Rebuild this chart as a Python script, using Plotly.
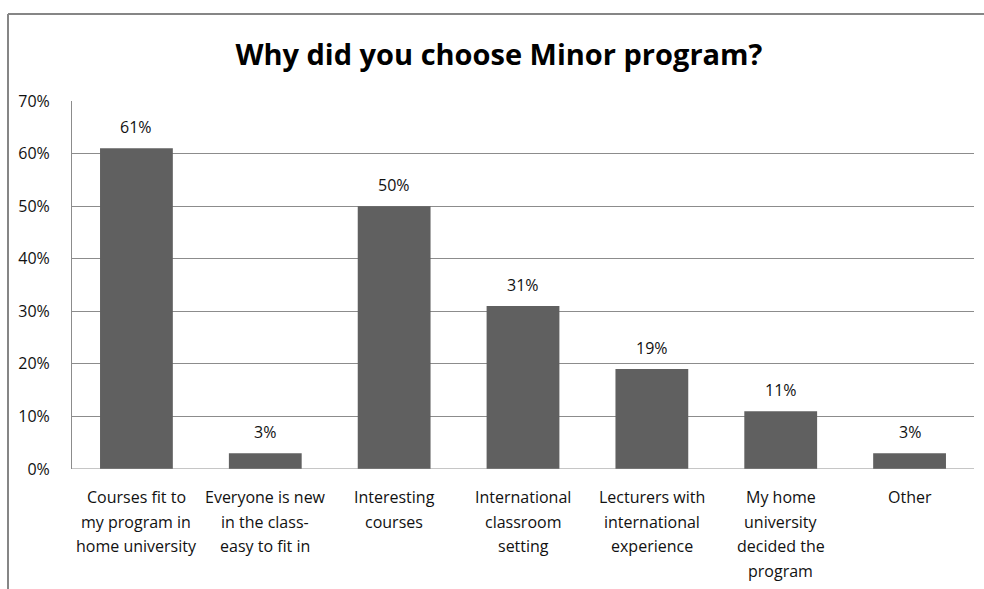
import plotly.graph_objects as go

# Survey answers: reasons for choosing the Minor program
categories = [
    "Courses fit to<br>my program in<br>home university",
    "Everyone is new<br>in the class-<br>easy to fit in",
    "Interesting<br>courses",
    "International<br>classroom<br>setting",
    "Lecturers with<br>international<br>experience",
    "My home<br>university<br>decided the<br>program",
    "Other",
]
shares = [0.61, 0.03, 0.50, 0.31, 0.19, 0.11, 0.03]
y_ticks = [0, 0.1, 0.2, 0.3, 0.4, 0.5, 0.6, 0.7]
y_tick_labels = ["0%", "10%", "20%", "30%", "40%", "50%", "60%", "70%"]

FONT = "Open Sans, Calibri, sans-serif"
LABEL_SIZE = 16
BAR_COLOR = "#606060"
GRID_COLOR = "#8c8c8c"
TEXT_COLOR = "#111111"
idx = list(range(len(categories)))

fig = go.Figure()
fig.add_trace(go.Bar(
    x=idx,
    y=shares,
    marker=dict(color=BAR_COLOR, line=dict(width=0)),
    width=0.565,
    hoverinfo="skip",
))

annotations = []
# Value labels above each bar
for i, v in zip(idx, shares):
    annotations.append(dict(
        x=i, y=v, xref="x", yref="y",
        text=f"{round(v * 100)}%",
        showarrow=False, yanchor="middle", yshift=21,
        font=dict(family=FONT, size=LABEL_SIZE, color=TEXT_COLOR),
    ))
# Category labels under the axis, one line at a time for wider line spacing
for i, label in zip(idx, categories):
    for k, line in enumerate(label.split("<br>")):
        annotations.append(dict(
            x=i, y=0, xref="x", yref="y",
            text=line,
            showarrow=False, yanchor="middle", yshift=-(28 + 24.5 * k),
            font=dict(family=FONT, size=LABEL_SIZE, color=TEXT_COLOR),
        ))

# Outer chart border (top and left edges)
W, H = 902.0, 368.0
x_left = (8 - 72) / W
x_right = (984 - 72) / W
y_top = (469 - 14) / H
y_bottom = (469 - 589) / H
shapes = [
    dict(type="line", xref="paper", yref="paper", x0=x_left, x1=x_right,
         y0=y_top, y1=y_top, line=dict(color="#868686", width=2)),
    dict(type="line", xref="paper", yref="paper", x0=x_left, x1=x_left,
         y0=y_top, y1=y_bottom, line=dict(color="#868686", width=2)),
]

fig.update_layout(
    width=984, height=589,
    margin=dict(l=72, r=10, t=101, b=120),
    paper_bgcolor="white", plot_bgcolor="white",
    showlegend=False,
    title=dict(
        text="<b>Why did you choose Minor program?</b>",
        x=0.507, xanchor="center", y=0.907, yanchor="middle",
        font=dict(family=FONT, size=29, color="#000000"),
    ),
    xaxis=dict(
        range=[-0.5, len(categories) - 0.5],
        showticklabels=False, showgrid=False, zeroline=False,
        showline=False, ticks="",
    ),
    yaxis=dict(
        range=[0, 0.7],
        tickvals=y_ticks, ticktext=y_tick_labels,
        tickfont=dict(family=FONT, size=LABEL_SIZE, color=TEXT_COLOR),
        showgrid=True, gridcolor=GRID_COLOR, gridwidth=1,
        zeroline=False,
        showline=True, linecolor=GRID_COLOR, linewidth=1,
        ticks="", ticklabelstandoff=18,
    ),
    annotations=annotations,
    shapes=shapes,
    bargap=0.4,
)
# bottom axis line
fig.add_shape(type="line", xref="paper", yref="y", x0=0, x1=1, y0=0, y1=0,
              line=dict(color=GRID_COLOR, width=1), layer="above")

fig.write_html("out.html")
